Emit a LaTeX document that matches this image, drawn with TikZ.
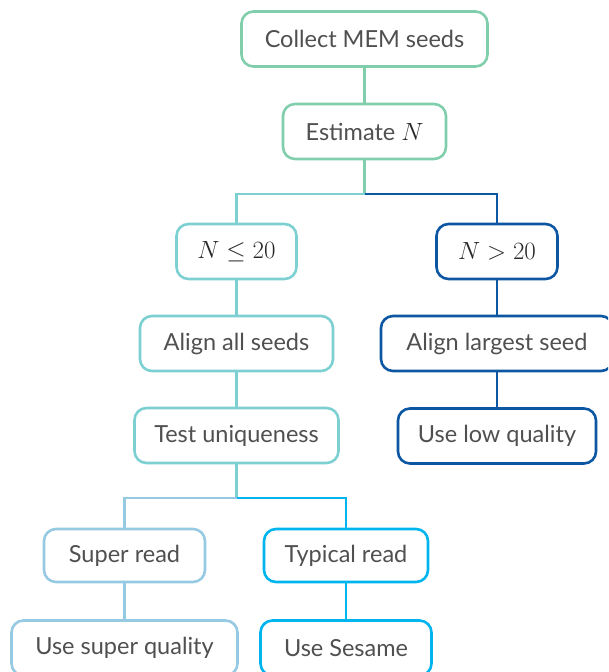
\documentclass[tikz,border=0pt]{standalone}
\usepackage[no-math]{fontspec}
\setmainfont{Lato}
\usetikzlibrary{positioning}
\definecolor{colMint}{RGB}{128,206,172}
\definecolor{colTeal}{RGB}{124,208,210}
\definecolor{colNavy}{RGB}{12,86,162}
\definecolor{colSky}{RGB}{150,202,226}
\definecolor{colCyan}{RGB}{0,180,238}
\definecolor{textGray}{RGB}{80,80,80}
\definecolor{mathGray}{RGB}{40,40,40}
\newcommand{\mathDark}[1]{{\color{mathGray}$#1$}}

\begin{document}
\begin{tikzpicture}[x=1pt,y=-1pt,
    box/.style={draw, line width=2.6pt, rounded corners=12pt, fill=white,
      minimum height=55pt, inner sep=0pt, text=textGray,
      font=\fontsize{23.5}{28}\selectfont},
    link/.style={line width=2.6pt}]
        \useasboundingbox (0,0) rectangle (608,672);
        \clip (0,0) rectangle (608,672);

        % top of the tree
        \node[box, draw=colMint, minimum width=246pt] (mem) at (364.5,39) {Collect MEM seeds};
        \node[box, draw=colMint, minimum width=163pt] (est) at (364.5,131.5) {Estimate \mathDark{N}};

        % left branch, few seeds
        \node[box, draw=colTeal, minimum width=120pt] (few) at (236.5,251.5) {\mathDark{N \leq 20}};
        \node[box, draw=colTeal, minimum width=193pt] (alignall) at (236.5,343.5) {Align all seeds};
        \node[box, draw=colTeal, minimum width=204pt] (unique) at (236.5,435.5) {Test uniqueness};

        % right branch, many seeds
        \node[box, draw=colNavy, minimum width=121pt] (many) at (497,251.5) {\mathDark{N > 20}};
        \node[box, draw=colNavy, minimum width=232pt] (alignbig) at (497,343.5) {Align largest seed};
        \node[box, draw=colNavy, minimum width=198pt] (lowq) at (497,436) {Use low quality};

        % read types
        \node[box, draw=colSky, minimum width=161pt, minimum height=53pt] (super) at (124.5,555.5) {Super read};
        \node[box, draw=colSky, minimum width=226pt] (superq) at (124.5,648) {Use super quality};
        \node[box, draw=colCyan, minimum width=164pt, minimum height=53pt] (typical) at (346,555.5) {Typical read};
        \node[box, draw=colCyan, minimum width=171pt] (sesame) at (346,648) {Use Sesame};

        \coordinate (fork1) at (364.5,194);
        \coordinate (fork2) at (236.5,498);

        \draw[link, colMint] (mem.south) -- (est.north);
        \draw[link, colMint] (est.south) -- (fork1);
        \draw[link, colTeal] (fork1) -| (few.north);
        \draw[link, colNavy] (fork1) -| (many.north);

        \draw[link, colTeal] (few.south) -- (alignall.north);
        \draw[link, colTeal] (alignall.south) -- (unique.north);
        \draw[link, colTeal] (unique.south) -- (fork2);
        \draw[link, colSky] (fork2) -| (super.north);
        \draw[link, colCyan] (fork2) -| (typical.north);

        \draw[link, colNavy] (many.south) -- (alignbig.north);
        \draw[link, colNavy] (alignbig.south) -- (lowq.north);

        \draw[link, colSky] (super.south) -- (superq.north);
        \draw[link, colCyan] (typical.south) -- (sesame.north);

\end{tikzpicture}
\end{document}
